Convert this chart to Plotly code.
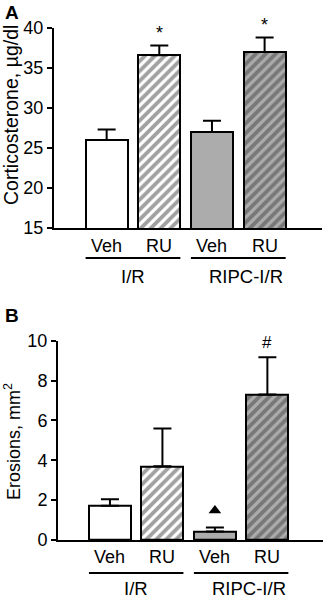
import plotly.graph_objects as go

# ---- data ----
categories = ["Veh", "RU", "Veh", "RU"]
groups = ["I/R", "RIPC-I/R"]
cort_mean = [26.0, 36.6, 27.0, 37.0]
cort_sem = [1.3, 1.2, 1.4, 1.8]
cort_marks = ["", "*", "", "*"]
eros_mean = [1.72, 3.7, 0.43, 7.3]
eros_sem = [0.33, 1.9, 0.2, 1.87]
eros_marks = ["", "", "triangle", "#"]

W, H = 325, 599
FONT = "Liberation Sans, Arial, sans-serif"
GRAY = "#acacac"
fills = ["white", "white", GRAY, GRAY]
hatch = ["", "/", "", "/"]

def py(pix):
    return 1 - pix / H

fig = go.Figure()

def add_panel(fig, xa, ya, means, sems):
    xs = list(range(len(means)))
    fig.add_trace(go.Bar(
        x=xs, y=means, width=0.8, xaxis=xa, yaxis=ya,
        marker=dict(color=fills, line=dict(color="black", width=2),
                    pattern=dict(shape=hatch, fgcolor="black", bgcolor=fills,
                                 size=7, solidity=0.55, fillmode="overlay")),
        error_y=dict(type="data", array=sems, arrayminus=[0]*len(sems),
                     symmetric=False, color="black", thickness=2, width=9),
        showlegend=False, hoverinfo="skip"))

add_panel(fig, "x", "y", cort_mean, cort_sem)
add_panel(fig, "x2", "y2", eros_mean, eros_sem)

axis_common = dict(showline=True, linecolor="black", linewidth=2, showgrid=False,
                   zeroline=False)
fig.update_layout(
    width=W, height=H, margin=dict(l=0, r=0, t=0, b=0, autoexpand=False),
    plot_bgcolor="white", paper_bgcolor="white",
    font=dict(family=FONT, color="black"),
    bargap=0,
    xaxis=dict(domain=[54/W, 322/W], range=[-1.0, 4.09], showticklabels=False,
               ticks="", anchor="y", **axis_common),
    yaxis=dict(domain=[py(228), py(28)], range=[15, 40], tickvals=[15, 20, 25, 30, 35, 40],
               ticks="outside", ticklen=5, tickwidth=2, tickcolor="black",
               tickfont=dict(size=18), anchor="x", **axis_common),
    xaxis2=dict(domain=[58/W, 323/W], range=[-0.99, 4.06], showticklabels=False,
                ticks="", anchor="y2", **axis_common),
    yaxis2=dict(domain=[py(540), py(340.7)], range=[0, 10], tickvals=[0, 2, 4, 6, 8, 10],
                ticks="outside", ticklen=5, tickwidth=2, tickcolor="black",
                tickfont=dict(size=18), anchor="x2", **axis_common),
)

ann = []
shapes = []
grp_shift = [0.0, 0.15]

def labels(xref, cat_y, line_y, grp_y):
    for i, c in enumerate(categories):
        ann.append(dict(x=i, y=py(cat_y), xref=xref, yref="paper", text=c,
                        showarrow=False, font=dict(size=18), xanchor="center", yanchor="middle"))
    for g, name in enumerate(groups):
        x0, x1 = 2*g - 0.4, 2*g + 1.4
        shapes.append(dict(type="line", xref=xref, yref="paper", x0=x0, x1=x1,
                           y0=py(line_y), y1=py(line_y), line=dict(color="black", width=2)))
        ann.append(dict(x=2*g + 0.5 + grp_shift[g], y=py(grp_y), xref=xref, yref="paper", text=name,
                        showarrow=False, font=dict(size=18.5), xanchor="center", yanchor="middle"))

labels("x", 246, 258, 277)
labels("x2", 556.7, 573, 588)

# significance marks
for i, m in enumerate(cort_marks):
    if m:
        ann.append(dict(x=i, y=cort_mean[i] + cort_sem[i], xref="x", yref="y", text=m,
                        showarrow=False, font=dict(size=18), xanchor="center",
                        yanchor="bottom", yshift=1))
for i, m in enumerate(eros_marks):
    if m == "triangle":
        fig.add_trace(go.Scatter(x=[i], y=[eros_mean[i] + eros_sem[i] + 0.85], xaxis="x2", yaxis="y2",
                                 mode="markers", marker=dict(symbol="triangle-up", size=11, color="black"),
                                 showlegend=False, hoverinfo="skip"))
    elif m:
        ann.append(dict(x=i, y=eros_mean[i] + eros_sem[i], xref="x2", yref="y2", text=m,
                        showarrow=False, font=dict(size=17), xanchor="center",
                        yanchor="bottom", yshift=3))

# axis titles
ann.append(dict(x=11/W, y=py(115), xref="paper", yref="paper", text="Corticosterone, µg/dl",
                textangle=-90, showarrow=False, font=dict(size=19.5),
                xanchor="center", yanchor="middle"))
ann.append(dict(x=12/W, y=py(442), xref="paper", yref="paper", text="Erosions, mm<sup>2</sup>",
                textangle=-90, showarrow=False, font=dict(size=18),
                xanchor="center", yanchor="middle"))

# panel letters
ann.append(dict(x=3/W, y=py(12), xref="paper", yref="paper", text="<b>A</b>",
                showarrow=False, font=dict(size=19), xanchor="left", yanchor="middle"))
ann.append(dict(x=3/W, y=py(315), xref="paper", yref="paper", text="<b>B</b>",
                showarrow=False, font=dict(size=19), xanchor="left", yanchor="middle"))

fig.update_layout(annotations=ann, shapes=shapes)
fig.write_html("out.html", config={"displayModeBar": False},
               post_script="document.body.style.margin='0';")
